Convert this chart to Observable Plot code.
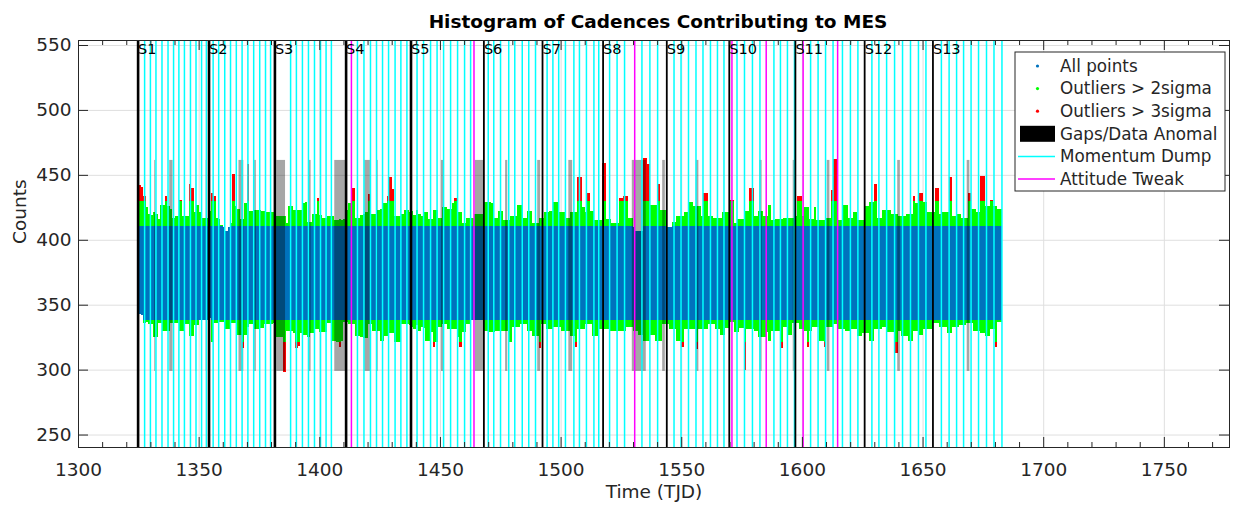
<!DOCTYPE html>
<html><head><meta charset="utf-8">
<script src="https://cdn.jsdelivr.net/npm/d3@7"></script>
<script src="https://cdn.jsdelivr.net/npm/@observablehq/plot@0.6"></script>
<style>
html,body{margin:0;padding:0;background:#fff;}
#chart{width:1240px;height:506px;}
</style></head><body><div id="chart"></div>
<script>
// ---------------- data ----------------
const titleText = "Histogram of Cadences Contributing to MES";
const xLabel = "Time (TJD)";
const yLabel = "Counts";
const xTicks = [1300, 1350, 1400, 1450, 1500, 1550, 1600, 1650, 1700, 1750];
const yTicks = [250, 300, 350, 400, 450, 500, 550];

const sectorLabels = ["S1","S2","S3","S4","S5","S6","S7","S8","S9","S10","S11","S12","S13"];
const sectorStarts = [1324.7, 1354.1, 1381.4, 1410.9, 1437.8, 1468.0, 1492.3, 1517.4, 1543.8, 1569.7, 1597.1, 1625.8, 1654.1];

const momentumDumps = [1327.4, 1329.8, 1332.1, 1334.6, 1337.1, 1339.4, 1341.6, 1343.9, 1346.4, 1348.7, 1351.0, 1353.0,
  1355.8, 1358.1, 1360.6, 1363.0, 1365.4, 1367.8, 1370.2, 1372.6, 1375.1, 1377.5, 1379.6,
  1387.9, 1390.3, 1392.8, 1395.3, 1397.8, 1400.3, 1402.6, 1404.8,
  1415.6, 1418.3, 1421.0, 1423.5, 1426.0, 1428.5, 1431.2, 1433.6, 1436.1,
  1440.3, 1443.0, 1445.9, 1448.6, 1451.3, 1454.2, 1457.1, 1460.0, 1462.5,
  1469.8, 1472.1, 1474.9, 1478.3, 1480.8, 1483.9, 1486.6, 1489.4,
  1494.2, 1496.6, 1499.0, 1501.8, 1505.3, 1507.6, 1510.5, 1513.6, 1515.6,
  1520.1, 1523.2, 1526.3, 1533.5, 1536.8, 1540.0,
  1546.8, 1549.7, 1552.8, 1555.9, 1558.8, 1561.9, 1564.8, 1567.5,
  1572.9, 1576.0, 1579.3, 1582.4, 1588.2, 1590.9, 1593.8, 1596.7,
  1603.4, 1606.5, 1609.6, 1612.7, 1616.6, 1619.9, 1623.0,
  1628.8, 1631.7, 1634.9, 1638.2, 1641.5, 1644.8, 1648.1, 1651.2,
  1657.6, 1660.8, 1663.9, 1666.8, 1669.9, 1673.0, 1676.3, 1679.4, 1682.7];

const attitudeTweaks = [1413.1, 1463.9, 1530.5, 1570.8, 1585.0, 1600.3, 1614.6];

const gapStarts = [1331.6, 1337.8, 1348.7, 1352.9, 1366.5, 1373.0, 1382.2, 1395.5, 1406.2, 1418.6, 1423.8,
  1450.4, 1464.5, 1477.0, 1490.3, 1503.2, 1529.5, 1542.1, 1556.0, 1582.3, 1596.2, 1610.3, 1639.5, 1668.3];
const gapEnds = [1332.0, 1339.2, 1349.0, 1353.2, 1368.5, 1373.7, 1385.8, 1396.4, 1410.7, 1421.0, 1424.2,
  1451.4, 1468.0, 1477.9, 1491.5, 1504.8, 1535.3, 1543.2, 1557.1, 1583.3, 1597.3, 1611.4, 1640.6, 1669.4];
const gapCountRange = [299, 461.5];

// per-day envelope of the plotted cadences (one-day bins starting at firstBinDay)
const firstBinDay = 1325;
const binMaxCounts = [
  442,441,434,425,420,419,421,420,416,427, 427,434,426,424,417,418,418,431,418,418,
  418,443,440,421,427,421,417,417,417,422, 436,434,417,416,411,410,407,410,413,451,
  426,424,416,416,428,458,422,422,423,423, 423,422,422,421,421,421,421,418,418,418,
  418,413,426,426,423,423,423,423,428,429, 414,414,420,420,432,419,417,417,418,418,
  418,415,415,416,415,416,423,428,440,440, 417,417,419,420,421,435,420,420,420,423,
  424,428,428,434,448,439,418,418,418,420, 423,423,421,422,419,423,420,418,421,421,
  416,416,423,423,417,417,425,425,424,424, 428,432,421,421,413,413,417,417,417,420,
  420,420,420,429,429,429,428,417,417,422, 422,415,415,415,418,418,418,427,427,417,
  417,422,422,413,413,413,417,417,421,421, 422,422,429,429,421,421,421,417,417,421,
  421,421,448,448,425,421,436,422,422,415, 415,415,459,459,416,416,413,413,413,432,
  432,434,434,417,417,410,407,407,407,463, 463,458,427,427,427,443,423,423,423,410,
  410,414,414,418,418,418,421,421,429,429, 426,426,426,418,436,436,418,418,417,417,
  417,417,421,421,421,431,431,413,416,416, 416,422,422,440,440,418,418,422,422,418,
  418,427,415,415,416,416,416,417,417,417, 417,417,418,434,434,418,425,425,416,416,
  425,415,415,415,415,417,417,438,462,462, 415,415,427,427,417,417,421,421,415,415,
  415,426,426,429,429,443,417,417,423,423, 423,423,420,420,420,418,418,418,420,420,
  420,434,428,436,436,429,429,421,421,421, 440,440,420,421,421,421,448,418,418,420,
  420,417,417,417,436,424,424,421,421,449, 449,426,426,431,426,426,424,424];
const binMinCounts = [
  343,342,336,337,335,335,325,325,336,336, 330,330,330,336,336,336,336,330,330,335,
  335,326,326,334,334,338,338,338,338,340, 321,336,336,337,337,337,331,331,336,336,
  336,327,327,317,327,333,335,335,331,331, 332,332,335,335,335,335,336,325,325,325,
  298,330,330,330,328,317,318,328,327,327, 325,328,328,331,331,329,329,329,336,336,
  322,322,321,317.5,322,337,337,335,335,335, 326,326,325,324,324,335,335,330,330,330,
  322,322,326,326,328,328,321,321,321,335, 335,335,334,333,331,334,330,333,332,322,
  322,329,317.5,321,333,333,335,335,331,331, 331,331,325,317.5,329,329,335,335,338,338,
  338,338,338,330,330,329,329,329,330,330, 330,330,330,321,321,333,333,333,335,335,
  335,330,330,326,326,326,317,335,335,331, 331,331,333,333,333,330,330,330,330,326,
  326,317.5,331,331,331,335,335,335,326,326, 326,331,331,331,331,330,330,330,330,330,
  330,330,333,333,333,330,330,327,327,322, 322,322,327,327,322,322,322,335,335,335,
  331,331,331,322,322,317.5,331,331,331,331, 331,316,331,331,331,331,335,335,335,331,
  331,327,327,332,332,337,337,329,329,332, 332,300,331,331,331,330,330,325,325,325,
  329,322,330,330,330,330,317,333,333,327, 327,336,336,336,331,331,330,317.5,330,333,
  333,333,322,322,317.5,333,333,333,335,335, 331,331,331,330,330,331,331,331,326,326,
  328,328,328,322,322,331,331,331,333,333, 329,329,329,313,313,330,326,326,326,322,
  322,330,330,327,327,331,331,331,331,336, 336,336,333,333,333,328,328,333,333,333,
  334,334,334,336,336,336,330,330,330,328, 328,326,326,331,331,317.5,337,337];
const band2Sigma = [338.5, 410.5];   // outside: "Outliers > 2sigma"
const band3Sigma = [321, 429.5];     // outside: "Outliers > 3sigma"

const legendLabels = ["All points", "Outliers > 2sigma", "Outliers > 3sigma", "Gaps/Data Anomal", "Momentum Dump", "Attitude Tweak"];

// ---------------- build tables ----------------
const BLUE = "#0072bd", GREEN = "#00ff00", RED = "#ff0000", CYAN = "#00ffff", MAGENTA = "#ff00ff", AX = "#262626";
const font = "'DejaVu Sans', sans-serif";
const [lo2, hi2] = band2Sigma, [lo3, hi3] = band3Sigma;
const bins = binMaxCounts.map((hi, i) => ({t0: firstBinDay + i, t1: firstBinDay + i + 1, hi, lo: binMinCounts[i]}));
const blueRects = bins.map(b => ({...b, y1: Math.max(b.lo, lo2), y2: Math.min(b.hi, hi2)}));
const greenRects = [
  ...bins.filter(b => b.hi > hi2).map(b => ({...b, y1: hi2, y2: Math.min(b.hi, hi3)})),
  ...bins.filter(b => b.lo < lo2).map(b => ({...b, y1: Math.max(b.lo, lo3), y2: lo2}))
];
const redRects = [
  ...bins.filter(b => b.hi > hi3).map(b => ({...b, y1: hi3, y2: b.hi})),
  ...bins.filter(b => b.lo < lo3).map(b => ({...b, y1: b.lo, y2: lo3}))
];
const gaps = gapStarts.map((s, i) => ({x1: s, x2: gapEnds[i], y1: gapCountRange[0], y2: gapCountRange[1]}));
const sectors = sectorStarts.map((t, i) => ({t, label: sectorLabels[i], w: i < 5 ? 2.6 : 1.8}));
const xMinor = d3.range(1310, 1777, 10).filter(v => v % 50 !== 0);

const rectOpts = fill => ({x1: "t0", x2: "t1", y1: "y1", y2: "y2", fill, inset: 0, shapeRendering: "crispEdges"});

const W = 1240, H = 506, mL = 78, mR = 11, mT = 40, mB = 59;
const frameH = H - mT - mB, frameW = W - mL - mR;

const plot = Plot.plot({
  width: W, height: H,
  marginLeft: mL, marginRight: mR, marginTop: mT, marginBottom: mB,
  x: {domain: [1300, 1777]},
  y: {domain: [240.4, 553.85]},
  style: {fontFamily: font, fontSize: "18.5px", color: AX, background: "white"},
  marks: [
    Plot.gridX(xTicks, {stroke: "#dfdfdf", strokeOpacity: 1}),
    Plot.gridY(yTicks, {stroke: "#dfdfdf", strokeOpacity: 1}),
    Plot.rect(blueRects, rectOpts(BLUE)),
    Plot.rect(greenRects, rectOpts(GREEN)),
    Plot.rect(redRects, rectOpts(RED)),
    Plot.rect(gaps, {x1: "x1", x2: "x2", y1: "y1", y2: "y2", fill: "black", fillOpacity: 0.35, inset: 0}),
    Plot.ruleX(momentumDumps, {x: d => d, stroke: CYAN, strokeWidth: 1.5}),
    Plot.ruleX(attitudeTweaks, {x: d => d, stroke: MAGENTA, strokeWidth: 1.5}),
    Plot.ruleX(sectors, {x: "t", stroke: "black", strokeWidth: "w"}),
    Plot.text(sectors, {x: "t", text: "label", frameAnchor: "top", dy: 9, textAnchor: "start", lineAnchor: "middle", fontSize: 14.5, fill: "black"}),
    Plot.frame({stroke: AX, strokeWidth: 1}),
    Plot.tickX(xTicks, {x: d => d, insetTop: frameH - 10, stroke: AX}),
    Plot.tickX(xTicks, {x: d => d, insetBottom: frameH - 10, stroke: AX}),
    Plot.tickX(xMinor, {x: d => d, insetTop: frameH - 5, stroke: AX}),
    Plot.tickX(xMinor, {x: d => d, insetBottom: frameH - 5, stroke: AX}),
    Plot.tickY(yTicks, {y: d => d, insetRight: frameW - 10, stroke: AX}),
    Plot.tickY(yTicks, {y: d => d, insetLeft: frameW - 10, stroke: AX}),
    Plot.axisX(xTicks, {tickSize: 0, tickPadding: 15, label: null, tickFormat: d => String(d)}),
    Plot.axisY(yTicks, {tickSize: 0, tickPadding: 7, label: null, tickFormat: d => String(d)}),
    Plot.text([titleText], {frameAnchor: "top", dy: -18, dx: 4, fontWeight: "bold", fontSize: 18.5, fill: "black", lineAnchor: "middle", ariaLabel: "title"}),
    Plot.text([xLabel], {frameAnchor: "bottom", dy: 45, fontSize: 18.5, fill: AX, lineAnchor: "middle"}),
    Plot.text([yLabel], {frameAnchor: "left", dx: -58, rotate: -90, fontSize: 18.5, fill: AX, lineAnchor: "middle"})
  ]
});
document.getElementById("chart").appendChild(plot);

// letter spacing for the title
d3.select(plot).selectAll('g[aria-label="title"] text').attr("letter-spacing", "1.9px");

// ---------------- legend ----------------
const lg = d3.select(plot).append("g").attr("font-family", font).attr("font-size", 16.8)
  .attr("fill", AX).attr("text-anchor", "start");
const lx = 1015, ly = 52, lw = 210, lh = 139, rowY = i => 66 + i * 22.6;
const clip = d3.select(plot).append("defs").append("clipPath").attr("id", "legclip");
clip.append("rect").attr("x", lx).attr("y", ly).attr("width", lw - 1).attr("height", lh);
lg.append("rect").attr("x", lx).attr("y", ly).attr("width", lw).attr("height", lh).attr("fill", "white").attr("stroke", AX);
legendLabels.forEach((lab, i) => {
  const y = rowY(i);
  if (i < 3) lg.append("circle").attr("cx", 1037.5).attr("cy", y).attr("r", 1.6).attr("fill", [BLUE, GREEN, RED][i]);
  else if (i === 3) lg.append("rect").attr("x", 1020).attr("y", y - 8).attr("width", 35).attr("height", 16).attr("fill", "black");
  else lg.append("line").attr("x1", 1018).attr("x2", 1055).attr("y1", y).attr("y2", y).attr("stroke", i === 4 ? CYAN : MAGENTA).attr("stroke-width", 1.5);
  lg.append("text").attr("x", 1060).attr("y", y).attr("dy", "0.35em").attr("text-anchor", "start")
    .attr("clip-path", "url(#legclip)").text(lab);
});
</script>
</body></html>
